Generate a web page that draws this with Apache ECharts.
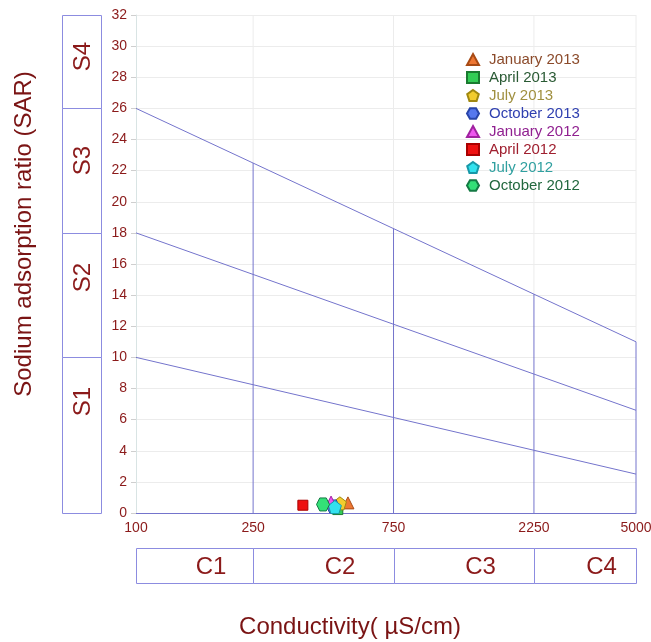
<!DOCTYPE html>
<html>
<head>
<meta charset="utf-8">
<script src="https://cdn.jsdelivr.net/npm/echarts@6/dist/echarts.min.js"></script>
<style>html,body{margin:0;padding:0;background:#fff}#c{width:651px;height:642px}</style>
</head>
<body>
<div id="c"></div>
<script>
// ---- data ----
const conductivityTicks = [100, 250, 750, 2250, 5000];
const sarAtLeft = [10, 18, 26];      // boundary lines at 100 µS/cm
const sarAtRight = [2.5, 6.6, 11];   // boundary lines at 5000 µS/cm
const sarMax = 32;
const sClasses = ['S1', 'S2', 'S3', 'S4'];
const cClasses = ['C1', 'C2', 'C3', 'C4'];
const seriesNames = ['January 2013', 'April 2013', 'July 2013', 'October 2013',
                     'January 2012', 'April 2012', 'July 2012', 'October 2012'];
// [conductivity µS/cm, SAR]
const jan2013 = [[525, 0.65]];
const apr2013 = [[485, 0.22]];
const jul2013 = [[493, 0.62]];
const oct2013 = [[467, 0.42]];
const jan2012 = [[460, 0.7]];
const apr2012 = [[369, 0.5]];
const jul2012 = [[474, 0.38]];
const oct2012 = [[432, 0.55]];
const seriesData = [jan2013, apr2013, jul2013, oct2013, jan2012, apr2012, jul2012, oct2012];

// ---- styles ----
const hexagon = 'path://M-1,0 L-0.5,-0.866 L0.5,-0.866 L1,0 L0.5,0.866 L-0.5,0.866 Z';
const pentagon = 'path://M0,-1 L0.951,-0.309 L0.588,0.809 L-0.588,0.809 L-0.951,-0.309 Z';
const symbols = ['triangle', 'rect', pentagon, hexagon, 'triangle', 'rect', pentagon, hexagon];
const sizes = [12, 10, 13, 13, 12, 10, 13, 13];
const fills = ['#ee7733', '#33cc55', '#f2cc2e', '#5577ee', '#ee55ee', '#ee1111', '#33e2ee', '#33e077'];
const borders = ['#a84a14', '#1a7a30', '#a08810', '#2844a8', '#a022a0', '#aa0000', '#1898a8', '#147a44'];
const textColors = ['#8b4a2a', '#2a5a34', '#a09040', '#3040b0', '#902090', '#a02030', '#30a0a0', '#22683e'];
const dark = '#8b1a1a';
const lineBlue = '#7474cc';
const font = '"Liberation Sans", Arial, sans-serif';

const L = Math.log10;
const xMin = L(conductivityTicks[0]);
const xMax = L(conductivityTicks[conductivityTicks.length - 1]);
function boundary(i, xl) { // SAR of boundary line i at log-conductivity xl
  return sarAtLeft[i] + (sarAtRight[i] - sarAtLeft[i]) * (xl - xMin) / (xMax - xMin);
}

const series = [];
seriesNames.forEach((n, i) => {
  series.push({
    name: n, type: 'scatter', symbol: symbols[i], symbolSize: sizes[i],
    itemStyle: { color: fills[i], borderColor: borders[i], borderWidth: 1, opacity: 1 },
    data: seriesData[i].map(p => [L(p[0]), p[1]]), z: 10
  });
});
// grey vertical grid lines (upper part above the top boundary line)
conductivityTicks.slice(1).forEach(v => {
  series.push({
    type: 'line', silent: true, symbol: 'none', z: 1,
    lineStyle: { color: '#ececec', width: 1 },
    data: [[L(v), boundary(2, L(v))], [L(v), sarMax]]
  });
});
// sloped boundary lines
sarAtLeft.forEach((s, i) => {
  series.push({
    type: 'line', silent: true, symbol: 'none', z: 5,
    lineStyle: { color: lineBlue, width: 1 },
    data: [[xMin, sarAtLeft[i]], [xMax, sarAtRight[i]]]
  });
});
// vertical class boundaries
conductivityTicks.slice(1).forEach(v => {
  series.push({
    type: 'line', silent: true, symbol: 'none', z: 5,
    lineStyle: { color: lineBlue, width: 1 },
    data: [[L(v), 0], [L(v), boundary(2, L(v))]]
  });
});

const chart = echarts.init(document.getElementById('c'), null, { renderer: 'canvas' });
chart.setOption({
  animation: false,
  textStyle: { fontFamily: font },
  grid: { left: 136, right: 15, top: 15, bottom: 129, containLabel: false, outerBoundsMode: 'none' },
  legend: {
    orient: 'vertical', left: 461, top: 47,
    itemWidth: 12, itemHeight: 11, itemGap: 3,
    textStyle: { fontSize: 15, fontFamily: font, padding: [0, 0, 0, 5] },
    data: seriesNames.map((n, i) => ({ name: n, textStyle: { color: textColors[i] } }))
  },
  xAxis: {
    type: 'value', min: xMin, max: xMax,
    axisLine: { lineStyle: { color: lineBlue } },
    axisTick: { show: false },
    splitLine: { show: false },
    axisLabel: {
      customValues: conductivityTicks.map(L),
      formatter: v => String(Math.round(Math.pow(10, v))),
      color: dark, fontSize: 14, margin: 8
    }
  },
  yAxis: {
    type: 'value', min: 0, max: sarMax, interval: 2,
    axisLine: { show: true, lineStyle: { color: '#d9e4e4' } },
    axisTick: { show: true, length: 5, lineStyle: { color: '#cfcfcf' } },
    splitLine: { show: true, lineStyle: { color: '#ececec' } },
    axisLabel: { color: dark, fontSize: 14, margin: 9 }
  },
  series: series
});

// ---- class boxes and titles ----
const P = (xl, y) => chart.convertToPixel({ gridIndex: 0 }, [xl, y]);
const g = [];
const boxStroke = { stroke: '#8c8ce0', lineWidth: 1, fill: 'none' };
const gridLeft = P(xMin, 0)[0];
const y0 = Math.round(P(xMin, 0)[1]);
const sBounds = [0].concat(sarAtLeft).concat([sarMax]);
const sx = Math.round(gridLeft - 74) + 0.5, sw = 39;
const sY = sBounds.map(s => Math.round(P(xMin, s)[1]) + 0.5);
for (let i = 0; i < sClasses.length; i++) {
  const yb = sY[i], yt = sY[i + 1];
  g.push({ type: 'rect', shape: { x: sx, y: yt, width: sw, height: yb - yt }, style: boxStroke, silent: true });
  g.push({ type: 'text', x: sx + sw / 2 + 1, y: yt + (i === 3 ? 41 : i === 2 ? 52 : 44), rotation: Math.PI / 2,
    style: { text: sClasses[i], font: '24px ' + font, fill: dark, align: 'center', verticalAlign: 'middle' }, silent: true });
}
const cTop = y0 + 35.5, cH = 35;
const cX = conductivityTicks.map(v => Math.round(P(L(v), 0)[0]) + 0.5);
for (let i = 0; i < cClasses.length; i++) {
  const xl = cX[i], xr = cX[i + 1];
  g.push({ type: 'rect', shape: { x: xl, y: cTop, width: xr - xl, height: cH }, style: boxStroke, silent: true });
  g.push({ type: 'text', x: (xl + xr) / 2 + 16, y: cTop + cH / 2 + 1,
    style: { text: cClasses[i], font: '24px ' + font, fill: dark, align: 'center', verticalAlign: 'middle' }, silent: true });
}
g.push({ type: 'text', x: 350, y: 627,
  style: { text: 'Conductivity( µS/cm)', font: '24px ' + font, fill: '#7a1414', align: 'center', verticalAlign: 'middle' }, silent: true });
g.push({ type: 'text', x: 24, y: 234, rotation: Math.PI / 2,
  style: { text: 'Sodium adsorption ratio (SAR)', font: '24px ' + font, fill: '#7a1414', align: 'center', verticalAlign: 'middle' }, silent: true });
chart.setOption({ graphic: g });
</script>
</body>
</html>
